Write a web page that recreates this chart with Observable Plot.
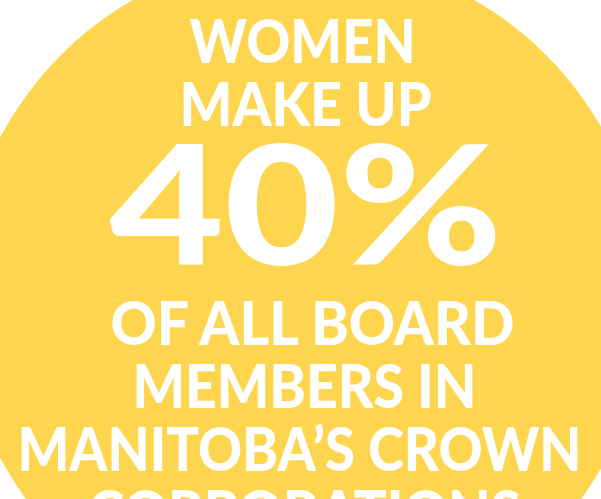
<!DOCTYPE html>
<html><head><meta charset="utf-8">
<script src="https://cdn.jsdelivr.net/npm/d3@7"></script>
<script src="https://cdn.jsdelivr.net/npm/@observablehq/plot@0.6"></script>
<style>html,body{margin:0;padding:0;overflow:hidden;background:#fff}svg{display:block}</style>
</head><body><div id="chart"></div>
<script>
// Data
const circleX = [303];
const circleY = [297];
const lines = ["WOMEN", "MAKE UP", "OF ALL BOARD", "MEMBERS IN", "MANITOBA’S CROWN", "CORPORATIONS"];
const lineX = [302, 305, 312, 304, 299, 304];
const lineY = [62, 125, 344, 407, 470, 533];
const bigText = ["40%"];
const bigX = [305.5];
const bigY = [264];

// Layout / style (not data)
const W = 601, H = 499;
const YELLOW = "#fdd54e";
const smallWidths = [226, 252, 404, 344, 564, 433];
const bigWidths = [393];

const small = lines.map((t, i) => ({t, x: lineX[i], y: lineY[i]}));
const big = bigText.map((t, i) => ({t, x: bigX[i], y: bigY[i]}));
const circ = circleX.map((x, i) => ({x, y: circleY[i]}));

const chart = Plot.plot({
  width: W, height: H,
  margin: 0,
  x: {domain: [0, W], range: [0, W], axis: null},
  y: {domain: [0, H], range: [0, H], axis: null},
  style: {background: "transparent", overflow: "hidden"},
  marks: [
    Plot.dot(circ, {x: "x", y: "y", r: 343, fill: YELLOW, stroke: "none"}),
    Plot.text(small, {x: "x", y: "y", text: "t", fill: "white", fontSize: 61.5, fontWeight: 900,
      fontFamily: "Lato", textAnchor: "middle", lineAnchor: "bottom", className: "small-lines"}),
    Plot.text(big, {x: "x", y: "y", text: "t", fill: "white", fontSize: 166, fontWeight: 900,
      fontFamily: "Lato", textAnchor: "middle", lineAnchor: "bottom", className: "big-line"})
  ]
});
document.getElementById("chart").append(chart);

// fit each line to its measured width
d3.select(chart).selectAll(".small-lines text").each(function(d, i) {
  d3.select(this).attr("textLength", smallWidths[i]).attr("lengthAdjust", "spacingAndGlyphs");
});
d3.select(chart).selectAll(".big-line text").each(function(d, i) {
  d3.select(this).attr("textLength", bigWidths[i]).attr("lengthAdjust", "spacingAndGlyphs");
});
</script></body></html>
